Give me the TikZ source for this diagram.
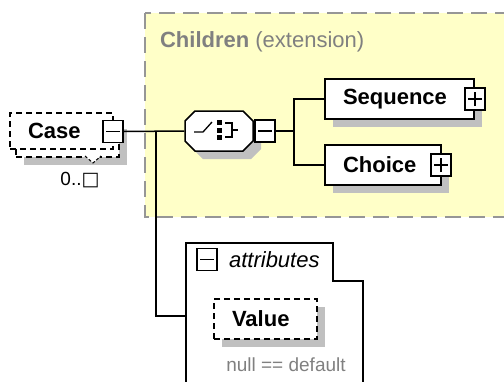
\documentclass[tikz,border=0pt]{standalone}
\usepackage{fontspec}
\setmainfont{Liberation Sans}
\newfontfamily\glyphfont{DejaVu Sans}
\usetikzlibrary{shadows}
\definecolor{groupfill}{RGB}{255,255,200}
\definecolor{groupline}{RGB}{150,150,150}
\definecolor{shadowgray}{RGB}{192,192,192}
\definecolor{notegray}{RGB}{128,128,128}
\def\bigfont{\fontsize{22}{26}\selectfont}

\begin{document}
\begin{tikzpicture}
    [x=1pt,y=-1pt,line width=1.5pt,font=\bigfont,
      shade/.style={drop shadow={shadow xshift=8pt,shadow yshift=-8pt,fill=shadowgray,opacity=1}},
      box/.style={draw,fill=white,font=\bigfont\bfseries,text width=#1,align=left,
        inner xsep=18pt,inner ysep=0pt,minimum height=40pt},
      optbox/.style={box=#1,dash pattern=on 6pt off 4pt},
      pm/.style={draw,fill=white,inner sep=0pt,minimum width=20pt,minimum height=22pt},
      minus/.style={pm,path picture={
          \draw[line width=1.3pt] ([xshift=-7pt]path picture bounding box.center)
            -- ([xshift=7pt]path picture bounding box.center);}},
      plus/.style={pm,path picture={
          \draw[line width=1.3pt] ([xshift=-7pt]path picture bounding box.center)
            -- ([xshift=7pt]path picture bounding box.center);
          \draw[line width=1.3pt] ([yshift=-7pt]path picture bounding box.center)
            -- ([yshift=7pt]path picture bounding box.center);}}]

    \useasboundingbox (0,0) rectangle (504,381);

    % extension group
    \draw[fill=groupfill,draw=groupline,dash pattern=on 16pt off 8pt] (145,13) rectangle (520,217);
    \node[anchor=west,text=notegray] (grouplabel) at (156,42) {\textbf{Children} (extension)};

    % Case element, several occurrences
    \node[optbox=67pt,minimum height=36pt,shade] (caseback) at (67.5,139) {};
    \draw[dash pattern=on 3pt off 2pt,line width=1pt,fill=white] (85,156) -- (93,163) -- (101,156);
    \node[optbox=67pt,minimum height=36pt] (case) at (61.5,131) {Case};
    \node[minus] (casepm) at (113,131.5) {};
    \node[font=\fontsize{19}{22}\selectfont] (caseocc) at (80,180) {0..{\glyphfont □}};

    % choice compositor
    \node[minimum width=68pt,minimum height=40pt,inner sep=0pt] (choicecomp) at (219,131) {};
    \begin{scope}[shift={(choicecomp.center)},line width=1.3pt]
      \draw[fill=white,shade,line width=1.5pt] (-34,-10) -- (-24,-20) -- (24,-20) -- (34,-10)
        -- (34,10) -- (24,20) -- (-24,20) -- (-34,10) -- cycle;
      \draw (-25,1) -- (-16,1) -- (-7,-9);
      \foreach \y in {-8.5,-1,6.5}
        \fill (-2,\y-2.5) rectangle (3,\y+2.5);
      \draw (6,-8) -- (13,-8) -- (13,6) -- (6,6);
      \draw (13,-1) -- (19,-1);
    \end{scope}
    \node[minus] (choicepm) at (265,131) {};

    \node[box=113pt,shade] (seq) at (399.5,99) {Sequence};
    \node[plus] (seqpm) at (475,99) {};
    \node[box=80pt,shade] (choice) at (383,165) {Choice};
    \node[plus] (choicepmb) at (441,165) {};

    % attributes
    \draw[fill=white] (186,390) -- (186,243) -- (333,243) -- (333,281) -- (363,281) -- (363,390);
    \coordinate (attrs) at (186,316);
    \node[minus] (attrpm) at (207,259.5) {};
    \node[anchor=west,font=\bigfont\itshape] (attrlabel) at (225,260) {attributes};
    \node[optbox=67pt,shade] (value) at (265.5,319) {Value};
    \node[font=\fontsize{19}{22}\selectfont,text=notegray] (valuenote) at (286,365) {null == default};

    % connectors
    \coordinate (split) at (156,131);
    \coordinate (fork) at (294,131);
    \draw (casepm.east) -- (choicecomp.west);
    \draw (split) |- (attrs);
    \draw (choicepm.east) -- (fork);
    \draw (seq.west) -| (fork) |- (choice.west);

\end{tikzpicture}
\end{document}
